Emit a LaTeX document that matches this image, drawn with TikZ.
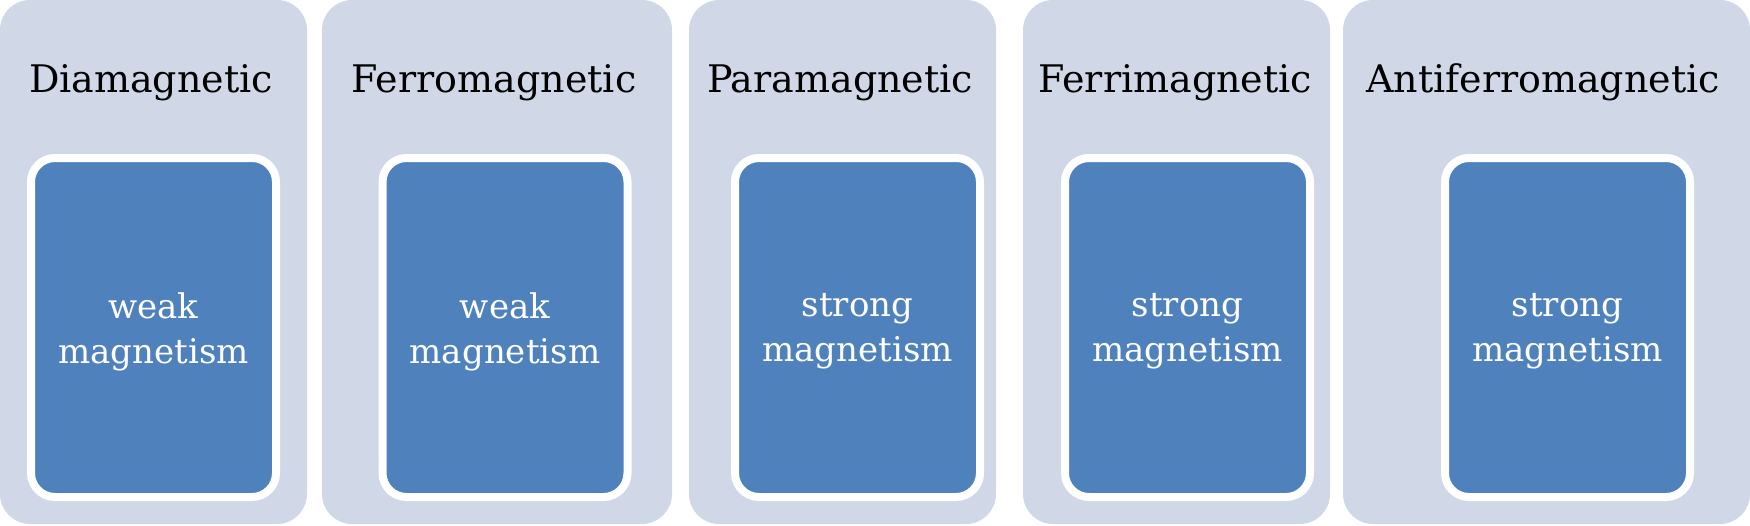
\documentclass[tikz,border=0pt]{standalone}
\usepackage{fontspec}
\setmainfont{DejaVu Serif}
\definecolor{outerfill}{HTML}{D0D8E8}
\definecolor{innerfill}{HTML}{4F81BD}
\begin{document}
\begin{tikzpicture}[x=1pt,y=-1pt,
  outerbox/.style={fill=outerfill,rounded corners=30pt},
  innerbox/.style={fill=innerfill,draw=white,line width=8pt,rounded corners=24pt,
    minimum width=245pt,minimum height=339pt},
  innertext/.style={text=white,align=center,font=\fontsize{34}{45}\selectfont,inner sep=0pt},
  titletext/.style={anchor=base,text=black,font=\fontsize{38}{44}\selectfont,inner sep=0pt}]
\useasboundingbox (0,0) rectangle (1750,525);
% outer panels
\path[outerbox] (0,0) rectangle (307,524) coordinate (o1);
\path[outerbox] (322,0) rectangle (672,524) coordinate (o2);
\path[outerbox] (689,0) rectangle (996,524) coordinate (o3);
\path[outerbox] (1023,0) rectangle (1330,524) coordinate (o4);
\path[outerbox] (1343,0) rectangle (1750,524) coordinate (o5);
% titles
\node[titletext] (t1) at (151,92) {Diamagnetic};
\node[titletext] (t2) at (494,92) {Ferromagnetic};
\node[titletext] (t3) at (840,92) {Paramagnetic};
\node[titletext] (t4) at (1175,92) {Ferrimagnetic};
\node[titletext] (t5) at (1543,92) {Antiferromagnetic};
% inner boxes
\node[innerbox] (i1) at (153.5,327.5) {};
\node[innerbox] (i2) at (505,327.5) {};
\node[innerbox] (i3) at (857.5,327.5) {};
\node[innerbox] (i4) at (1187.5,327.5) {};
\node[innerbox] (i5) at (1567.5,327.5) {};
% inner texts
\node[innertext] (l1) at ([yshift=-4pt]i1.center) {weak\\magnetism};
\node[innertext] (l2) at ([yshift=-4pt]i2.center) {weak\\magnetism};
\node[innertext] (l3) at ([yshift=-4pt]i3.center) {strong\\magnetism};
\node[innertext] (l4) at ([yshift=-4pt]i4.center) {strong\\magnetism};
\node[innertext] (l5) at ([yshift=-4pt]i5.center) {strong\\magnetism};
\end{tikzpicture}
\end{document}
